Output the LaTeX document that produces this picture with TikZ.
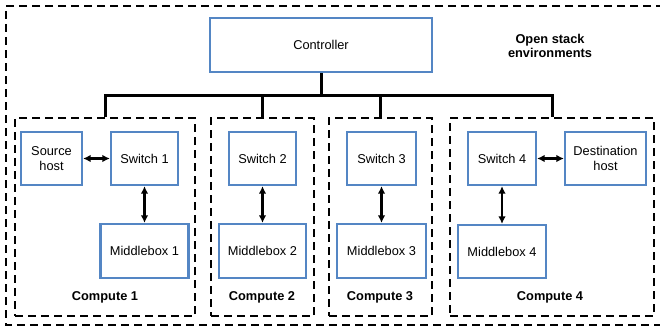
\documentclass[tikz,border=0pt]{standalone}
\usepackage{fontspec}
\setmainfont{Liberation Sans}
\usetikzlibrary{arrows.meta}
\definecolor{boxblue}{RGB}{84,134,196}
\tikzset{
  every node/.style={font=\fontsize{12.8}{14.8}\selectfont},
  unit/.style={draw=boxblue, line width=2.2pt, fill=white, inner sep=0pt, align=center},
  region/.style={draw=black, line width=1.5pt, dash pattern=on 8pt off 5pt, inner sep=0pt},
  outerline/.style={draw=black, line width=1.5pt, dash pattern=on 8pt off 5pt},
  busline/.style={draw=black, line width=3pt},
  link/.style={draw=black, line width=2.2pt, {Latex[length=7.5pt,width=7.5pt]}-{Latex[length=7.5pt,width=7.5pt]}},
  caption/.style={font=\fontsize{12.8}{14.8}\selectfont\bfseries, align=center}
}
\begin{document}
\begin{tikzpicture}[x=1pt, y=-1pt]
\useasboundingbox (0,0) rectangle (660,332);

% environment border (runs off the right edge)
\draw[outerline] (664,6) -- (6,6) -- (6,325) -- (664,325);

% compute regions
\node[region, minimum width=180pt, minimum height=198pt] (c1) at (105,217) {};
\node[region, minimum width=103pt, minimum height=198pt] (c2) at (262.5,217) {};
\node[region, minimum width=103pt, minimum height=198pt] (c3) at (380.5,217) {};
\node[region, minimum width=204pt, minimum height=198pt] (c4) at (552,217) {};

% controller and title
\node[unit, minimum width=222pt, minimum height=54pt] (ctrl) at (321,45) {Controller};
\node[caption] (title) at (550,46) {Open stack\\environments};

% bus from controller to the compute nodes
\coordinate (bus) at (321,95);
\draw[busline] (ctrl.south) -- (bus);
\draw[busline] (c1.north) -- (c1.north |- bus) -- (c4.north |- bus) -- (c4.north);
\draw[busline] (c2.north) -- (c2.north |- bus);
\draw[busline] (c3.north) -- (c3.north |- bus);

% hosts and switches
\node[unit, minimum width=61pt, minimum height=53pt] (src) at (51.5,158.5) {Source\\host};
\node[unit, minimum width=67pt, minimum height=53pt] (sw1) at (144.5,158.5) {Switch 1};
\node[unit, minimum width=67pt, minimum height=53pt] (sw2) at (262.5,158.5) {Switch 2};
\node[unit, minimum width=69pt, minimum height=53pt] (sw3) at (381.5,158.5) {Switch 3};
\node[unit, minimum width=68pt, minimum height=53pt] (sw4) at (502,158.5) {Switch 4};
\node[unit, minimum width=81pt, minimum height=53pt] (dst) at (605.5,158.5) {Destination\\host};

% middleboxes
\node[unit, minimum width=88pt, minimum height=54pt] (mb1) at (144.5,251) {Middlebox 1};
\node[unit, minimum width=87pt, minimum height=54pt] (mb2) at (262.5,251) {Middlebox 2};
\node[unit, minimum width=89pt, minimum height=54pt] (mb3) at (381.5,251) {Middlebox 3};
\node[unit, minimum width=88pt, minimum height=53pt] (mb4) at (502,251.5) {Middlebox 4};

% links
\draw[link] (src.east) -- (sw1.west);
\draw[link] (sw4.east) -- (dst.west);
\draw[link] (sw1.south) -- (mb1.north);
\draw[link] (sw2.south) -- (mb2.north);
\draw[link] (sw3.south) -- (mb3.north);
\draw[link] (sw4.south) -- (mb4.north);

% compute labels
\node[caption] (l1) at (105,297) {Compute 1};
\node[caption] (l2) at (262,297) {Compute 2};
\node[caption] (l3) at (380,297) {Compute 3};
\node[caption] (l4) at (550,297) {Compute 4};
\end{tikzpicture}
\end{document}
